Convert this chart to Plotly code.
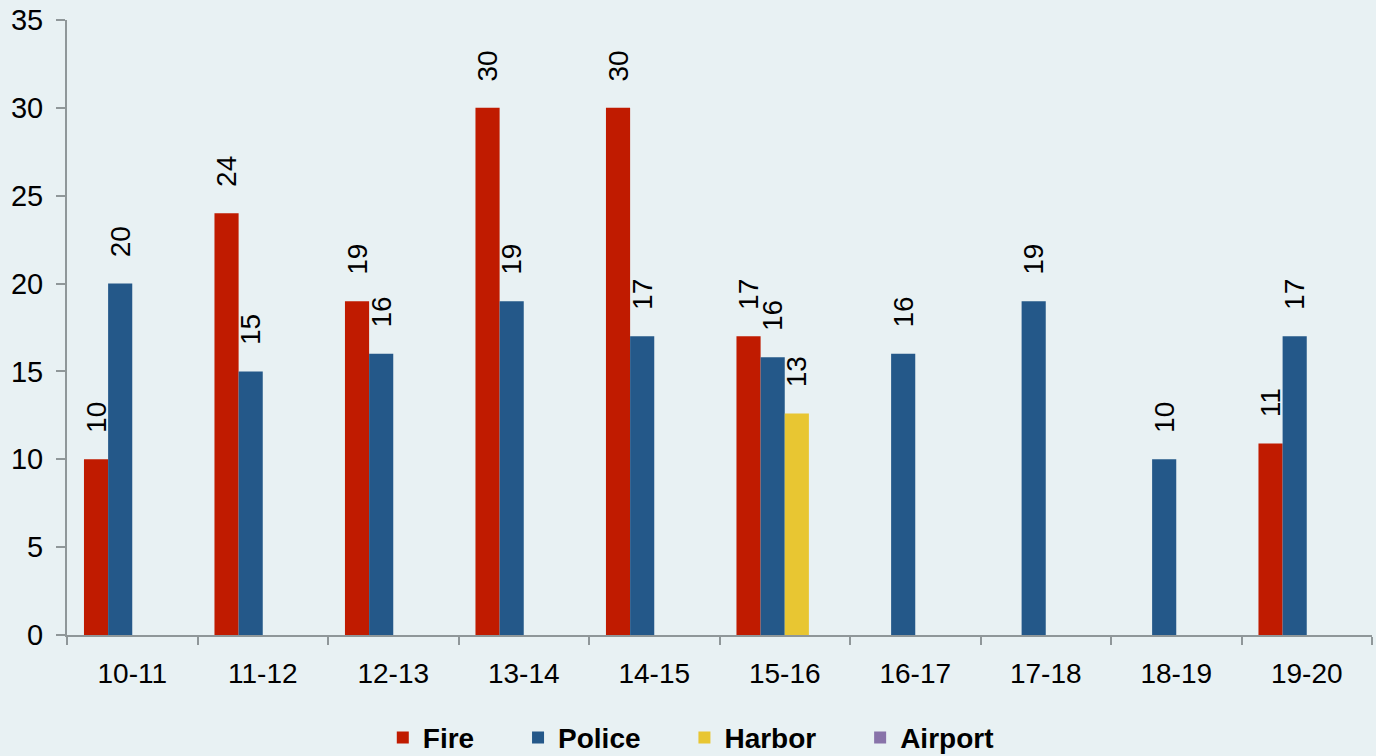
import plotly.graph_objects as go

# ===== 데이터 =====
years = ["10-11", "11-12", "12-13", "13-14", "14-15",
         "15-16", "16-17", "17-18", "18-19", "19-20"]
fire = [10, 24, 19, 30, 30, 17, None, None, None, 10.9]
police = [20, 15, 16, 19, 17, 15.8, 16, 19, 10, 17]
harbor = [None, None, None, None, None, 12.6, None, None, None, None]
airport = [None] * 10

COLORS = {
    'bg': '#e8f1f3',
    'axis': '#8f9799',
    'fire': '#c01b00',
    'police': '#245889',
    'harbor': '#e8c632',
    'airport': '#8873a9',
}

FONT = "Liberation Sans, Arial, sans-serif"
NB = "\u00a0"

fig = go.Figure()

series = [("Fire", fire, COLORS['fire']),
          ("Police", police, COLORS['police']),
          ("Harbor", harbor, COLORS['harbor']),
          ("Airport", airport, COLORS['airport'])]

for i, (name, vals, col) in enumerate(series):
    # 범례 항목 간격
    pad = NB * 5 if i < len(series) - 1 else ""
    fig.add_trace(go.Bar(
        x=years, y=vals,
        name=name + pad,
        marker=dict(color=col, line=dict(width=0)),
        texttemplate=NB * 3 + "%{y:.0f}",
        textposition="outside",
        textangle=-90,
        constraintext="none",
        cliponaxis=False,
        textfont=dict(size=28, color="black", family=FONT),
    ))

fig.update_layout(
    barmode="group",
    bargap=0.26,
    bargroupgap=0,
    width=1376, height=756,
    plot_bgcolor=COLORS['bg'],
    paper_bgcolor=COLORS['bg'],
    font=dict(family=FONT, color="black"),
    margin=dict(l=67, r=4, t=20, b=121, autoexpand=False),
    legend=dict(
        orientation="h",
        x=0.478, xanchor="center",
        yref="container",
        y=0.024, yanchor="middle",
        font=dict(size=28, family=FONT, weight="bold"),
        itemwidth=30,
        bgcolor="rgba(0,0,0,0)",
        traceorder="normal",
    ),
)

fig.update_xaxes(
    type="category",
    showline=True, linecolor=COLORS['axis'], linewidth=2,
    ticks="outside", tickson="boundaries", ticklen=8, tickwidth=2,
    tickcolor=COLORS['axis'],
    tickfont=dict(size=28),
    ticklabelstandoff=12,
    showgrid=False, automargin=False,
)
fig.update_yaxes(
    range=[0, 35], dtick=5,
    showline=True, linecolor=COLORS['axis'], linewidth=2,
    ticks="outside", ticklen=9, tickwidth=2, tickcolor=COLORS['axis'],
    tickfont=dict(size=29),
    ticklabelstandoff=7,
    showgrid=False, zeroline=False, automargin=False,
)

fig.write_html("out.html", config={"displayModeBar": False},
               post_script="document.body.style.margin='0';")
